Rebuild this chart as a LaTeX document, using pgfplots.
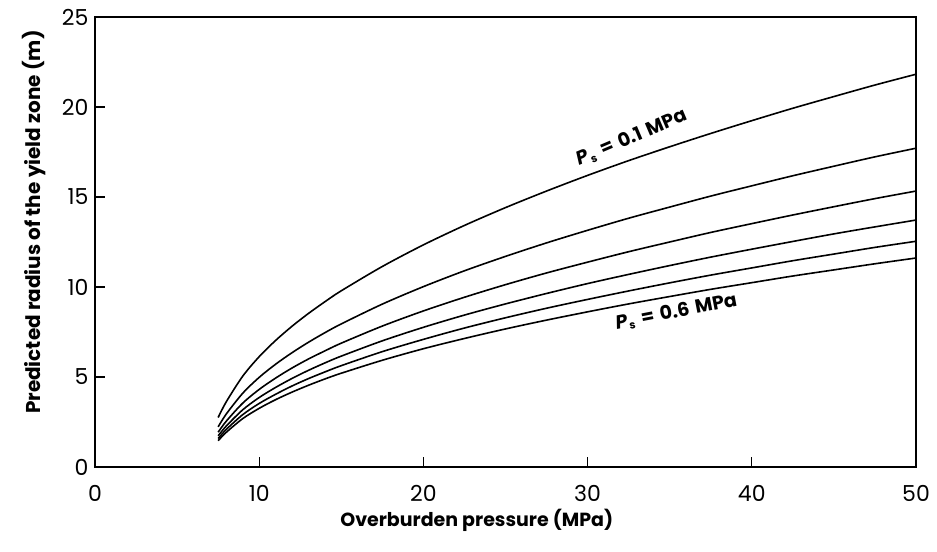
\documentclass[border=0pt]{standalone}
\usepackage{fontspec}
\setmainfont{Poppins}
\usepackage{pgfplots}
\pgfplotsset{compat=1.18}
\usepackage{pgfplotstable}
\pgfplotstableread{
x     a      b      c      d      e      f
7.5   2.75   2.23   1.93   1.73   1.58   1.46
8     3.63   2.95   2.55   2.28   2.09   1.93
9     5.05   4.10   3.55   3.18   2.91   2.69
10    6.13   4.98   4.31   3.86   3.53   3.26
11    7.03   5.71   4.94   4.42   4.04   3.74
12    7.82   6.35   5.50   4.92   4.50   4.16
13    8.53   6.93   6.00   5.37   4.91   4.54
14    9.18   7.46   6.45   5.78   5.28   4.89
15    9.79   7.95   6.88   6.16   5.63   5.21
17.5  11.14  9.05   7.83   7.01   6.41   5.93
20    12.34  10.02  8.67   7.76   7.09   6.57
22.5  13.42  10.90  9.43   8.44   7.72   7.14
25    14.41  11.70  10.13  9.06   8.29   7.67
27.5  15.33  12.45  10.78  9.64   8.82   8.16
30    16.20  13.15  11.38  10.19  9.31   8.62
32.5  17.02  13.82  11.96  10.70  9.78   9.06
35    17.79  14.44  12.50  11.19  10.23  9.47
37.5  18.53  15.05  13.03  11.66  10.66  9.87
40    19.24  15.62  13.52  12.10  11.06  10.24
42.5  19.93  16.18  14.00  12.53  11.46  10.61
45    20.58  16.71  14.46  12.95  11.83  10.95
47.5  21.22  17.23  14.91  13.34  12.20  11.29
50    21.82  17.71  15.33  13.72  12.54  11.61
}\yielddata
\begin{document}
\begin{tikzpicture}
\begin{axis}[
  name=ax,
  width=821pt, height=450pt, scale only axis,
  xmin=0, xmax=50, ymin=0, ymax=25,
  xtick={0,10,...,50}, ytick={0,5,...,25},
  tick align=inside, xtick pos=bottom, ytick pos=left,
  major tick length=10pt,
  axis line style={line width=1.5pt},
  every tick/.style={line width=1.3pt, black},
  /pgf/number format/assume math mode=true,
  tick label style={font=\fontsize{22}{22}\selectfont},
  xticklabel style={yshift=-15pt},
  yticklabel style={xshift=-3pt},
  xlabel={Overburden pressure (MPa)},
  ylabel={Predicted radius of the yield zone (m)},
  xlabel style={font=\bfseries\fontsize{19}{19}\selectfont, at={(axis description cs:0.465,-0.118)}, anchor=center},
  ylabel style={font=\bfseries\fontsize{20}{20}\selectfont, at={(axis description cs:-0.074,0.544)}, anchor=center},
  clip=false,
]
\addplot[black, line width=1.6pt, smooth] table[x=x, y=a] {\yielddata};
\addplot[black, line width=1.6pt, smooth] table[x=x, y=b] {\yielddata};
\addplot[black, line width=1.6pt, smooth] table[x=x, y=c] {\yielddata};
\addplot[black, line width=1.6pt, smooth] table[x=x, y=d] {\yielddata};
\addplot[black, line width=1.6pt, smooth] table[x=x, y=e] {\yielddata};
\addplot[black, line width=1.6pt, smooth] table[x=x, y=f] {\yielddata};
\node[rotate=23, font=\bfseries\fontsize{19}{19}\selectfont] at (axis cs:32.7,18.3)
  {{\itshape P}\kern1pt{\fontsize{11}{11}\selectfont\raisebox{-0.5ex}{s}}\hspace{7pt}=\hspace{6pt}0.1\hspace{6pt}MPa};
\node[rotate=11, font=\bfseries\fontsize{19}{19}\selectfont] at (axis cs:35.4,8.6)
  {{\itshape P}\kern1pt{\fontsize{11}{11}\selectfont\raisebox{-0.5ex}{s}}\hspace{7pt}=\hspace{6pt}0.6\hspace{6pt}MPa};
\end{axis}
\path ([xshift=-95pt,yshift=-85pt]ax.south west) rectangle ([xshift=21pt,yshift=17pt]ax.north east);
\end{tikzpicture}
\end{document}
